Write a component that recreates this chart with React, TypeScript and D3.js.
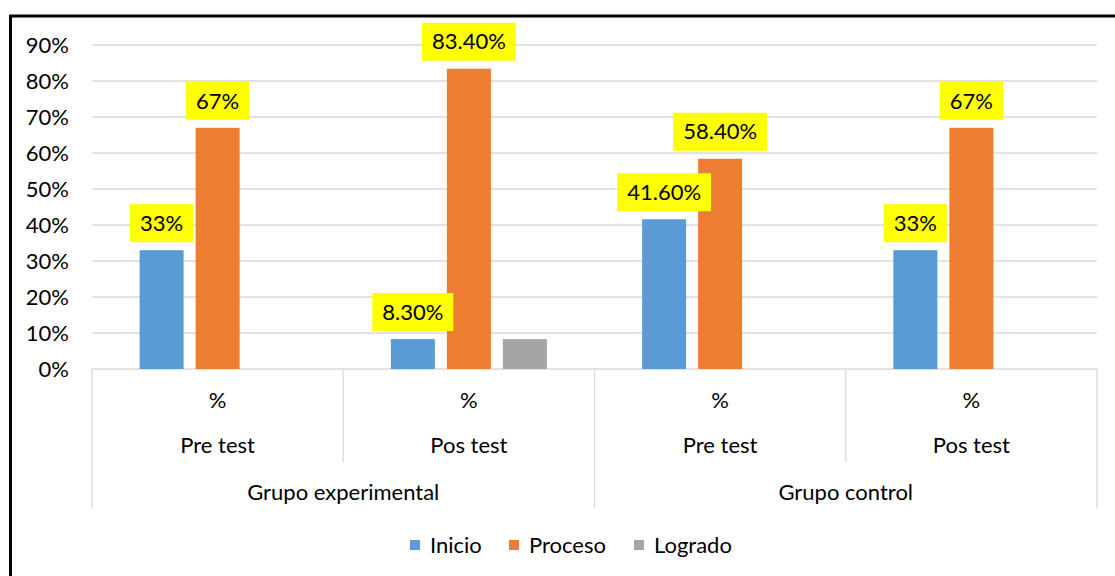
import React from 'react'
import * as d3 from 'd3'

const groups = ['Grupo experimental', 'Grupo control']
const tests = ['Pre test', 'Pos test', 'Pre test', 'Pos test']
const unitLabel = '%'
const seriesNames = ['Inicio', 'Proceso', 'Logrado']
const colors = ['#5B9BD5', '#ED7D31', '#A5A5A5']
const inicio = [0.33, 0.083, 0.416, 0.33]
const proceso = [0.67, 0.834, 0.584, 0.67]
const logrado = [0, 0.083, 0, 0]
const inicioLabels = ['33%', '8.30%', '41.60%', '33%']
const procesoLabels = ['67%', '83.40%', '58.40%', '67%']
const logradoLabels = [null, null, null, null]
const yTicks = [0, 0.1, 0.2, 0.3, 0.4, 0.5, 0.6, 0.7, 0.8, 0.9]

const W = 1115
const H = 576
const font = 'Lato, "Noto Sans", sans-serif'
const fs = 22

let ctx: CanvasRenderingContext2D | null = null
const measure = (t: string) => {
  if (!ctx) ctx = document.createElement('canvas').getContext('2d')
  if (!ctx) return t.length * 11
  ctx.font = `${fs}px ${font}`
  return ctx.measureText(t).width
}

const App = () => {
  const values = [inicio, proceso, logrado]
  const labels = [inicioLabels, procesoLabels, logradoLabels]

  const y = d3.scaleLinear().domain([0, 0.9]).range([369, 45])
  const x = d3.scaleBand<number>().domain(d3.range(tests.length)).range([92, 1097]).padding(0)
  const inner = d3.scaleBand<string>()
    .domain(seriesNames)
    .range([0, x.bandwidth()])
    .paddingInner(12 / 56)
    .paddingOuter(0.85)
  const outer = d3.scaleBand<number>().domain(d3.range(groups.length)).range([92, 1097])

  const axisY = y(0)

  return (
    <svg width={W} height={H} style={{ position: 'absolute', left: 0, top: 0 }} fontFamily={font}>
      <rect x={0} y={0} width={W} height={H} fill="#fff" />
      <rect x={10.5} y={16} width={W + 20} height={H + 20} fill="none" stroke="#000" strokeWidth={3} />

      {yTicks.map(t => (
        <g key={t}>
          {t > 0 && <line x1={92} x2={1097} y1={y(t)} y2={y(t)} stroke="#d9d9d9" strokeWidth={1.3} />}
          <text x={69} y={y(t)} dy="0.35em" textAnchor="end" fontSize={fs} fill="#000">
            {d3.format('.0%')(t)}
          </text>
        </g>
      ))}

      <line x1={92} x2={1097} y1={axisY} y2={axisY} stroke="#d9d9d9" strokeWidth={1.3} />
      {d3.range(tests.length + 1).map(i => {
        const xx = i < tests.length ? x(i)! : 1097
        const isOuter = i % 2 === 0
        return (
          <line key={i} x1={xx} x2={xx} y1={axisY} y2={isOuter ? 508 : 462} stroke="#d9d9d9" strokeWidth={1.3} />
        )
      })}

      {tests.map((t, i) => (
        <g key={i}>
          <text x={x(i)! + x.bandwidth() / 2} y={400} dy="0.35em" textAnchor="middle" fontSize={fs}>{unitLabel}</text>
          <text x={x(i)! + x.bandwidth() / 2} y={445} dy="0.35em" textAnchor="middle" fontSize={fs}>{t}</text>
        </g>
      ))}
      {groups.map((g, i) => (
        <text key={g} x={outer(i)! + outer.bandwidth() / 2} y={492} dy="0.35em" textAnchor="middle" fontSize={fs}>{g}</text>
      ))}

      {values.map((vals, s) => (
        <g key={s}>
          {vals.map((v, i) => {
            const bx = x(i)! + inner(seriesNames[s])!
            return (
              <rect key={i} x={bx} y={y(v)} width={inner.bandwidth()} height={axisY - y(v)} fill={colors[s]} />
            )
          })}
        </g>
      ))}

      {values.map((vals, s) => (
        <g key={'l' + s}>
          {vals.map((v, i) => {
            const lab = labels[s][i]
            if (!lab) return null
            const cx = x(i)! + inner(seriesNames[s])! + inner.bandwidth() / 2
            const bw = measure(lab) + 20
            const bottom = y(v) - 8
            return (
              <g key={i}>
                <rect x={cx - bw / 2} y={bottom - 38} width={bw} height={38} fill="#ffff00" />
                <text x={cx} y={bottom - 19} dy="0.35em" textAnchor="middle" fontSize={fs}>{lab}</text>
              </g>
            )
          })}
        </g>
      ))}

      {seriesNames.map((n, s) => {
        const lx = [410, 509, 634][s]
        return (
          <g key={n}>
            <rect x={lx} y={540} width={10} height={10} fill={colors[s]} />
            <text x={lx + 20} y={545} dy="0.35em" fontSize={fs}>{n}</text>
          </g>
        )
      })}
    </svg>
  )
}

export default App
